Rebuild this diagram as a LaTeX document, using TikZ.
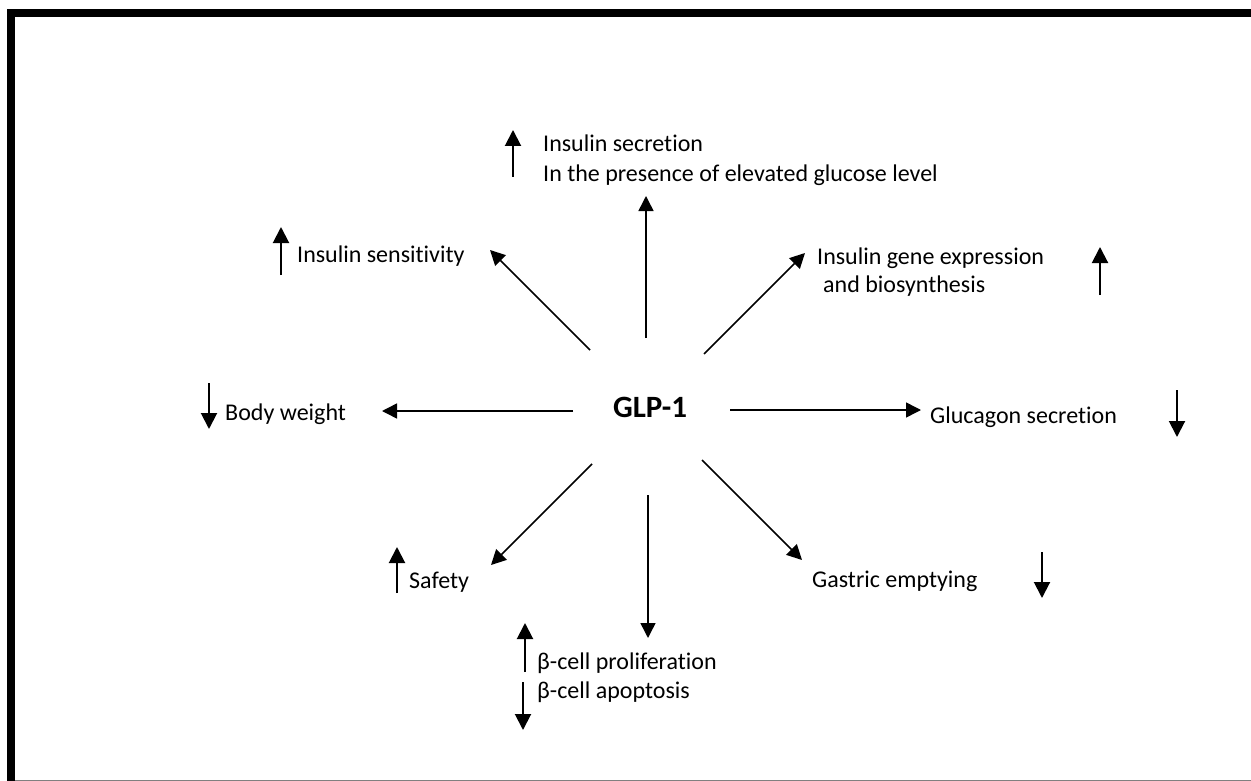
\documentclass[tikz,border=0pt]{standalone}
\usepackage{fontspec}
\setmainfont{Carlito}[Ligatures = NoCommon]
\usetikzlibrary{arrows.meta}
\tikzset{
  effect/.style = {anchor = base west, inner sep = 0pt, font = \fontsize{24}{28}\selectfont},
  link/.style = {line width = 1.5pt, -{Triangle[length = 15pt, width = 15pt]}},
  trend/.style = {line width = 2pt, -{Triangle[length = 16pt, width = 16pt]}}
}
\begin{document}
\begin{tikzpicture}[x = 1pt, y = -1pt]
\useasboundingbox (0,0) rectangle (1251,781);
% frame
\draw [line width = 8pt] (11,781) -- (11,13.5) -- (1251,13.5);
\draw [gray] (15,780) -- (1251,780);
% centre
\node (glp) [inner sep = 0pt, font = \fontsize{31}{36}\selectfont\bfseries] at (650,407) {GLP-1};
% effects
\node (secr) [effect] at (543,152) {Insulin secretion};
\node (gluc) [effect] at (543,182) {In the presence of elevated glucose level};
\node (sens) [effect] at (297,262) {Insulin sensitivity};
\node (gene) [effect] at (817,264) {Insulin gene expression};
\node (bios) [effect] at (823,292) {and biosynthesis};
\node (body) [effect] at (225,420) {Body weight};
\node (glcg) [effect] at (930,423) {Glucagon secretion};
\node (safe) [effect] at (409,588) {Safety};
\node (gast) [effect] at (812,587) {Gastric emptying};
\node (prol) [effect] at (537,669) {β-cell proliferation};
\node (apop) [effect] at (537,698) {β-cell apoptosis};
% arrow ends
\coordinate (n0) at (646,338);  \coordinate (n1) at (646,196);
\coordinate (nw0) at (590,350); \coordinate (nw1) at (490,250);
\coordinate (ne0) at (704,354); \coordinate (ne1) at (805,253);
\coordinate (w0) at (573,411);  \coordinate (w1) at (382,411);
\coordinate (e0) at (730,410);  \coordinate (e1) at (921,410);
\coordinate (sw0) at (592,464); \coordinate (sw1) at (491,565);
\coordinate (s0) at (648,495);  \coordinate (s1) at (648,638);
\coordinate (se0) at (702,460); \coordinate (se1) at (802,560);
\foreach \d in {n,nw,ne,w,e,sw,s,se}{
\draw [link] (\d0) -- (\d1);
}
% up and down marks
\foreach \x/\a/\b in {513/177/130, 281/275/227, 1100/295/247, 209/383/429, 1177/390/437, 397/593/547, 1042/552/598, 525/672/623, 523/682/730}{
\draw [trend] (\x,\a) -- (\x,\b);
}
\end{tikzpicture}
\end{document}
